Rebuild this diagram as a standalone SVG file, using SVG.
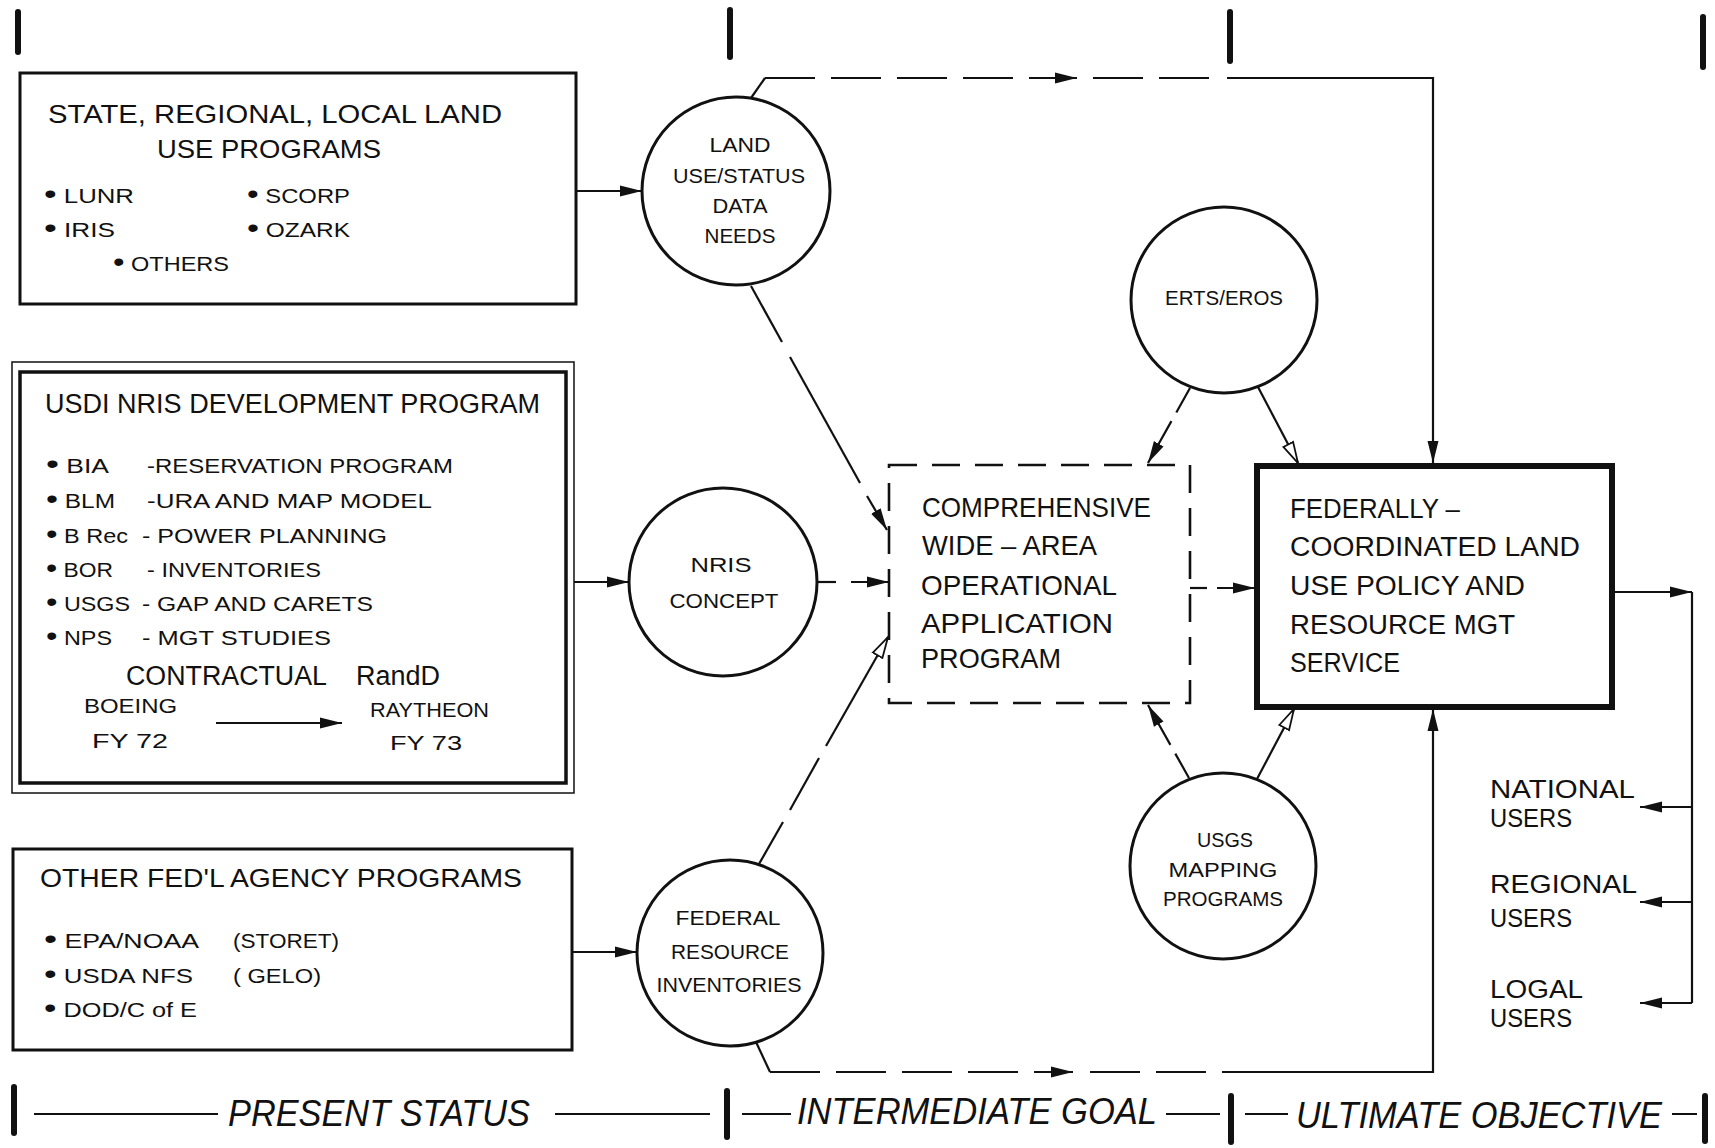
<svg xmlns="http://www.w3.org/2000/svg" width="1715" height="1148" viewBox="0 0 1715 1148">
<style>
.t{font-family:"Liberation Sans",Arial,sans-serif;fill:#111;}
.it{font-family:"Liberation Sans",Arial,sans-serif;font-style:italic;fill:#111;font-size:36px;}
.b1{fill:none;stroke:#111;stroke-width:3;}
.circ{fill:none;stroke:#111;stroke-width:3;}
.ln{fill:none;stroke:#111;stroke-width:2.2;}
.tick{stroke:#111;stroke-width:6;stroke-linecap:round;}
.f20{font-size:20px;}
.f21{font-size:21px;}
.f26{font-size:26px;}
.f27{font-size:27px;}
.f28{font-size:28px;}
.bu{font-size:28px;}
</style>
<defs>
<marker id="ah" markerUnits="userSpaceOnUse" markerWidth="24" markerHeight="12" viewBox="0 0 24 12" refX="22" refY="6" orient="auto">
<path d="M0,0.5 L22,6 L0,11.5 z" fill="#111"/>
</marker>
<marker id="aho" markerUnits="userSpaceOnUse" markerWidth="24" markerHeight="14" viewBox="0 0 24 14" refX="22" refY="7" orient="auto">
<path d="M1,1.5 L22,7 L1,12.5 z" fill="#fff" stroke="#111" stroke-width="1.8"/>
</marker>
</defs>
<rect width="1715" height="1148" fill="#fff"/>

<g id="phase-markers">
<line class="tick" x1="18" y1="12" x2="18" y2="52"/>
<line class="tick" x1="730" y1="10" x2="730" y2="57"/>
<line class="tick" x1="1230" y1="12" x2="1230" y2="61"/>
<line class="tick" x1="1703" y1="17" x2="1703" y2="67"/>
<line class="tick" x1="14" y1="1087" x2="14" y2="1133"/>
<line class="tick" x1="727" y1="1091" x2="727" y2="1137"/>
<line class="tick" x1="1231" y1="1096" x2="1231" y2="1142"/>
<line class="tick" x1="1705" y1="1096" x2="1705" y2="1141"/>
<path class="ln" d="M34,1114 H218 M555,1114 H710 M742,1114 H791 M1166,1114 H1220 M1245,1114 H1288 M1672,1114 H1697"/>
<text class="it" x="228" y="1126" textLength="302" lengthAdjust="spacingAndGlyphs">PRESENT  STATUS</text>
<text class="it" x="797" y="1124" textLength="360" lengthAdjust="spacingAndGlyphs">INTERMEDIATE  GOAL</text>
<text class="it" x="1296" y="1128" textLength="366" lengthAdjust="spacingAndGlyphs">ULTIMATE OBJECTIVE</text>
</g>

<g id="state-programs">
<rect class="b1" x="20" y="73" width="556" height="231"/>
<text class="t f26" x="48" y="123" textLength="454" lengthAdjust="spacingAndGlyphs">STATE, REGIONAL, LOCAL LAND</text>
<text class="t f26" x="157" y="158" textLength="224" lengthAdjust="spacingAndGlyphs">USE PROGRAMS</text>
<text class="t f20" x="44" y="203" textLength="90" lengthAdjust="spacingAndGlyphs"><tspan class="bu">•</tspan> LUNR</text>
<text class="t f20" x="247" y="203" textLength="103" lengthAdjust="spacingAndGlyphs"><tspan class="bu">•</tspan> SCORP</text>
<text class="t f20" x="44" y="237" textLength="71" lengthAdjust="spacingAndGlyphs"><tspan class="bu">•</tspan> IRIS</text>
<text class="t f20" x="247" y="237" textLength="103" lengthAdjust="spacingAndGlyphs"><tspan class="bu">•</tspan> OZARK</text>
<text class="t f20" x="113" y="271" textLength="116" lengthAdjust="spacingAndGlyphs"><tspan class="bu">•</tspan> OTHERS</text>
</g>

<g id="usdi-nris-program">
<rect fill="none" stroke="#111" stroke-width="1.5" x="12" y="362" width="562" height="431"/>
<rect fill="none" stroke="#111" stroke-width="3.5" x="20" y="372" width="546" height="411"/>
<text class="t f27" x="45" y="413" textLength="495" lengthAdjust="spacingAndGlyphs">USDI NRIS DEVELOPMENT PROGRAM</text>
<text class="t f20" x="46" y="473" textLength="63" lengthAdjust="spacingAndGlyphs"><tspan class="bu">•</tspan> BIA</text>
<text class="t f20" x="147" y="473" textLength="306" lengthAdjust="spacingAndGlyphs">-RESERVATION PROGRAM</text>
<text class="t f20" x="46" y="508" textLength="69" lengthAdjust="spacingAndGlyphs"><tspan class="bu">•</tspan> BLM</text>
<text class="t f20" x="147" y="508" textLength="285" lengthAdjust="spacingAndGlyphs">-URA AND MAP MODEL</text>
<text class="t f20" x="46" y="543" textLength="82" lengthAdjust="spacingAndGlyphs"><tspan class="bu">•</tspan> B Rec</text>
<text class="t f20" x="142" y="543" textLength="245" lengthAdjust="spacingAndGlyphs">- POWER PLANNING</text>
<text class="t f20" x="46" y="577" textLength="67" lengthAdjust="spacingAndGlyphs"><tspan class="bu">•</tspan> BOR</text>
<text class="t f20" x="147" y="577" textLength="174" lengthAdjust="spacingAndGlyphs">- INVENTORIES</text>
<text class="t f20" x="46" y="611" textLength="84" lengthAdjust="spacingAndGlyphs"><tspan class="bu">•</tspan> USGS</text>
<text class="t f20" x="142" y="611" textLength="231" lengthAdjust="spacingAndGlyphs">- GAP AND CARETS</text>
<text class="t f20" x="46" y="645" textLength="66" lengthAdjust="spacingAndGlyphs"><tspan class="bu">•</tspan> NPS</text>
<text class="t f20" x="142" y="645" textLength="189" lengthAdjust="spacingAndGlyphs">- MGT STUDIES</text>
<text class="t f27" x="126" y="685" textLength="201" lengthAdjust="spacingAndGlyphs">CONTRACTUAL</text>
<text class="t f27" x="356" y="685" textLength="84" lengthAdjust="spacingAndGlyphs">RandD</text>
<text class="t f21" x="84" y="713" textLength="93" lengthAdjust="spacingAndGlyphs">BOEING</text>
<text class="t f21" x="370" y="717" textLength="119" lengthAdjust="spacingAndGlyphs">RAYTHEON</text>
<text class="t f21" x="92" y="748" textLength="76" lengthAdjust="spacingAndGlyphs">FY  72</text>
<text class="t f21" x="390" y="750" textLength="72" lengthAdjust="spacingAndGlyphs">FY  73</text>
<line class="ln" x1="216" y1="723" x2="342" y2="723" marker-end="url(#ah)"/>
</g>

<g id="other-fed-programs">
<rect class="b1" x="13" y="849" width="559" height="201"/>
<text class="t f26" x="40" y="887" textLength="482" lengthAdjust="spacingAndGlyphs">OTHER FED'L AGENCY PROGRAMS</text>
<text class="t f20" x="44" y="948" textLength="155" lengthAdjust="spacingAndGlyphs"><tspan class="bu">•</tspan> EPA/NOAA</text>
<text class="t f20" x="233" y="948" textLength="106" lengthAdjust="spacingAndGlyphs">(STORET)</text>
<text class="t f20" x="44" y="983" textLength="149" lengthAdjust="spacingAndGlyphs"><tspan class="bu">•</tspan> USDA NFS</text>
<text class="t f20" x="233" y="983" textLength="88" lengthAdjust="spacingAndGlyphs">( GELO)</text>
<text class="t f20" x="44" y="1017" textLength="153" lengthAdjust="spacingAndGlyphs"><tspan class="bu">•</tspan> DOD/C of E</text>
</g>

<g id="land-use-data-needs">
<circle class="circ" cx="736" cy="191" r="94"/>
<text class="t f21" x="740" y="152" text-anchor="middle" textLength="61" lengthAdjust="spacingAndGlyphs">LAND</text>
<text class="t f21" x="739" y="183" text-anchor="middle" textLength="132" lengthAdjust="spacingAndGlyphs">USE/STATUS</text>
<text class="t f21" x="740" y="213" text-anchor="middle" textLength="55" lengthAdjust="spacingAndGlyphs">DATA</text>
<text class="t f21" x="740" y="243" text-anchor="middle" textLength="71" lengthAdjust="spacingAndGlyphs">NEEDS</text>
</g>

<g id="nris-concept">
<circle class="circ" cx="723" cy="582" r="94"/>
<text class="t f21" x="721" y="572" text-anchor="middle" textLength="61" lengthAdjust="spacingAndGlyphs">NRIS</text>
<text class="t f21" x="724" y="608" text-anchor="middle" textLength="109" lengthAdjust="spacingAndGlyphs">CONCEPT</text>
</g>

<g id="federal-resource-inventories">
<circle class="circ" cx="730" cy="953" r="93"/>
<text class="t f21" x="728" y="925" text-anchor="middle" textLength="105" lengthAdjust="spacingAndGlyphs">FEDERAL</text>
<text class="t f21" x="730" y="959" text-anchor="middle" textLength="118" lengthAdjust="spacingAndGlyphs">RESOURCE</text>
<text class="t f21" x="729" y="992" text-anchor="middle" textLength="145" lengthAdjust="spacingAndGlyphs">INVENTORIES</text>
</g>

<g id="erts-eros">
<circle class="circ" cx="1224" cy="300" r="93"/>
<text class="t f21" x="1224" y="305" text-anchor="middle" textLength="118" lengthAdjust="spacingAndGlyphs">ERTS/EROS</text>
</g>

<g id="usgs-mapping-programs">
<circle class="circ" cx="1223" cy="866" r="93"/>
<text class="t f21" x="1225" y="847" text-anchor="middle" textLength="56" lengthAdjust="spacingAndGlyphs">USGS</text>
<text class="t f21" x="1223" y="877" text-anchor="middle" textLength="109" lengthAdjust="spacingAndGlyphs">MAPPING</text>
<text class="t f21" x="1223" y="906" text-anchor="middle" textLength="120" lengthAdjust="spacingAndGlyphs">PROGRAMS</text>
</g>

<g id="comprehensive-program">
<rect x="889" y="465" width="301" height="238" fill="none" stroke="#111" stroke-width="2.6" stroke-dasharray="28 15"/>
<text class="t f28" x="922" y="517" textLength="229" lengthAdjust="spacingAndGlyphs">COMPREHENSIVE</text>
<text class="t f28" x="922" y="555" textLength="175" lengthAdjust="spacingAndGlyphs">WIDE – AREA</text>
<text class="t f28" x="921" y="595" textLength="196" lengthAdjust="spacingAndGlyphs">OPERATIONAL</text>
<text class="t f28" x="921" y="633" textLength="192" lengthAdjust="spacingAndGlyphs">APPLICATION</text>
<text class="t f28" x="921" y="668" textLength="140" lengthAdjust="spacingAndGlyphs">PROGRAM</text>
</g>

<g id="federal-service">
<rect x="1257" y="466" width="355" height="241" fill="none" stroke="#111" stroke-width="6"/>
<text class="t f27" x="1290" y="518" textLength="170" lengthAdjust="spacingAndGlyphs">FEDERALLY –</text>
<text class="t f27" x="1290" y="556" textLength="290" lengthAdjust="spacingAndGlyphs">COORDINATED LAND</text>
<text class="t f27" x="1290" y="595" textLength="235" lengthAdjust="spacingAndGlyphs">USE POLICY AND</text>
<text class="t f27" x="1290" y="634" textLength="225" lengthAdjust="spacingAndGlyphs">RESOURCE MGT</text>
<text class="t f27" x="1290" y="672" textLength="110" lengthAdjust="spacingAndGlyphs">SERVICE</text>
</g>

<g id="users">
<text class="t f26" x="1490" y="798" textLength="145" lengthAdjust="spacingAndGlyphs">NATIONAL</text>
<text class="t f26" x="1490" y="827" textLength="82" lengthAdjust="spacingAndGlyphs">USERS</text>
<text class="t f26" x="1490" y="893" textLength="147" lengthAdjust="spacingAndGlyphs">REGIONAL</text>
<text class="t f26" x="1490" y="927" textLength="82" lengthAdjust="spacingAndGlyphs">USERS</text>
<text class="t f26" x="1490" y="998" textLength="93" lengthAdjust="spacingAndGlyphs">LOGAL</text>
<text class="t f26" x="1490" y="1027" textLength="82" lengthAdjust="spacingAndGlyphs">USERS</text>
</g>

<g id="connectors">
<path class="ln" d="M576,191 H642" marker-end="url(#ah)"/>
<path class="ln" d="M574,582 H629" marker-end="url(#ah)"/>
<path class="ln" d="M572,952 H637" marker-end="url(#ah)"/>
<path class="ln" d="M751,98 L765,78"/>
<path class="ln" d="M765,78 H1077" stroke-dasharray="50 16" marker-end="url(#ah)"/>
<path class="ln" d="M1093,78 H1213" stroke-dasharray="50 16"/>
<path class="ln" d="M1227,78 H1433 V463" marker-end="url(#ah)"/>
<path class="ln" d="M751,286 L782,342"/>
<path class="ln" d="M790,357 L860,483"/>
<path class="ln" d="M867,496 L887,530" marker-end="url(#ah)"/>
<path class="ln" d="M817,582 H836"/>
<path class="ln" d="M851,582 H889" marker-end="url(#ah)"/>
<path class="ln" d="M759,864 L783,822"/>
<path class="ln" d="M790,810 L819,758"/>
<path class="ln" d="M826,746 L888,637" marker-end="url(#aho)"/>
<path class="ln" d="M756,1042 L770,1072"/>
<path class="ln" d="M770,1072 H1073" stroke-dasharray="50 16" marker-end="url(#ah)"/>
<path class="ln" d="M1090,1072 H1213" stroke-dasharray="50 16"/>
<path class="ln" d="M1222,1072 H1433 V709" marker-end="url(#ah)"/>
<path class="ln" d="M1190,588 H1207"/>
<path class="ln" d="M1217,588 H1255" marker-end="url(#ah)"/>
<path class="ln" d="M1190,388 L1148,463" stroke-dasharray="28 10" marker-end="url(#ah)"/>
<path class="ln" d="M1258,387 L1298,463" marker-end="url(#aho)"/>
<path class="ln" d="M1189,778 L1148,705" stroke-dasharray="28 10" marker-end="url(#ah)"/>
<path class="ln" d="M1257,779 L1294,709" marker-end="url(#aho)"/>
<path class="ln" d="M1615,592 H1692" marker-end="url(#ah)"/>
<path class="ln" d="M1692,592 V1003"/>
<path class="ln" d="M1692,807 H1640" marker-end="url(#ah)"/>
<path class="ln" d="M1692,902 H1640" marker-end="url(#ah)"/>
<path class="ln" d="M1692,1003 H1640" marker-end="url(#ah)"/>
</g>
</svg>
